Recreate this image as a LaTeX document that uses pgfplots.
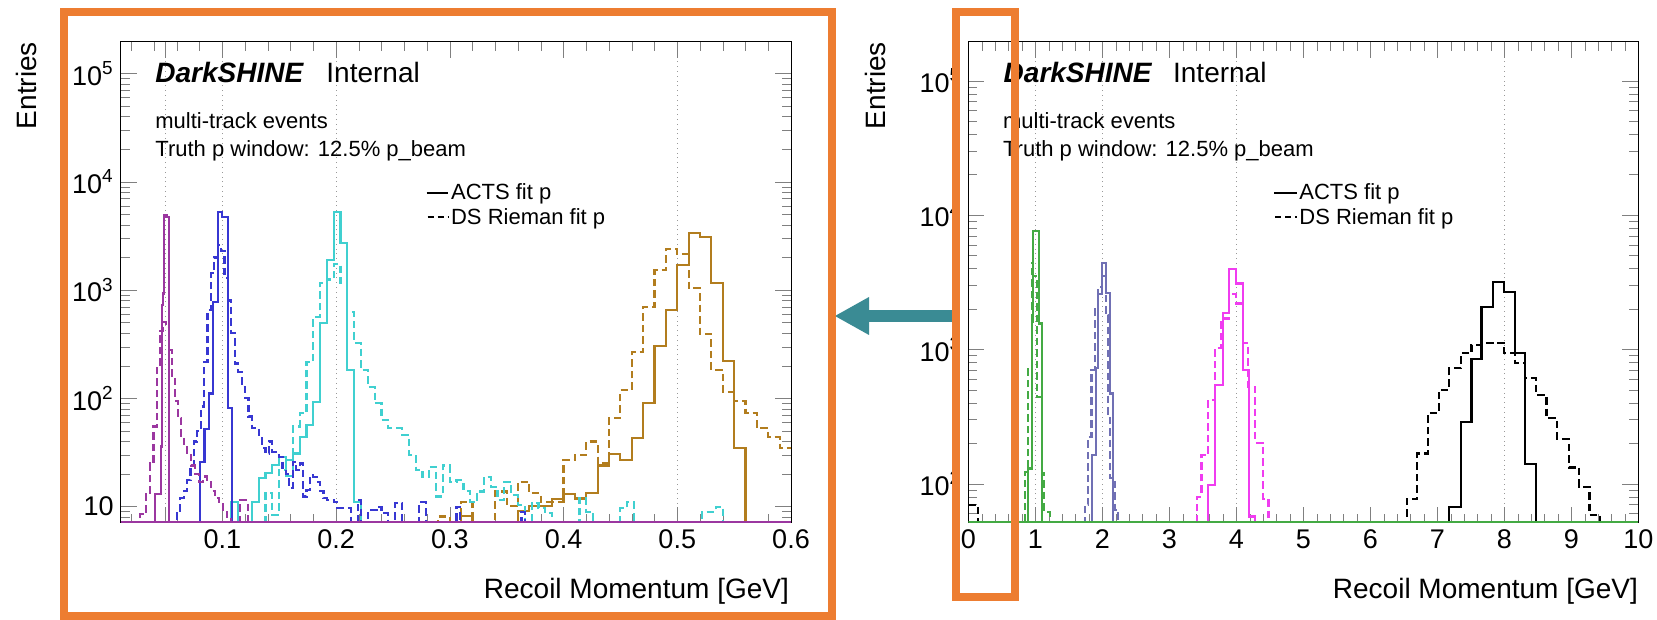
\documentclass[border=0pt]{standalone}
\usepackage{pgfplots}
\pgfplotsset{compat=1.18}
\usepackage{fontspec}
\setmainfont{Liberation Sans}
\setsansfont{Liberation Sans}
\definecolor{cMag}{RGB}{155,55,160}
\definecolor{cBlue}{RGB}{55,55,210}
\definecolor{cCyan}{RGB}{64,208,208}
\definecolor{cGold}{RGB}{178,125,30}
\definecolor{cGreen}{RGB}{68,170,68}
\definecolor{cSlate}{RGB}{112,112,180}
\definecolor{cPink}{RGB}{240,60,240}
\definecolor{cOrange}{RGB}{237,125,49}
\definecolor{cTeal}{RGB}{58,139,148}
\tikzset{dsh/.style={dash pattern=on 3.75pt off 2pt}}
\begin{document}
\begin{tikzpicture}
\useasboundingbox (0,0) rectangle (828.5pt,310pt);
\fill[white] (0,0) rectangle (828.5pt,310pt);

% ---------------- LEFT PANEL ----------------
\begin{axis}[
  scale only axis, anchor=south west,
  at={(60.35pt,48.5pt)}, width=335.15pt, height=240.65pt,
  ymode=log,
  xmin=0.0107, xmax=0.6, ymin=7.07, ymax=1.966e5,
  tick align=inside,
  axis line style={line width=0.5pt},
  major tick length=8pt, minor tick length=4.5pt,
  tick label style={font=\fontsize{13.5}{15}\selectfont},
  xtick={0.1,0.2,0.3,0.4,0.5,0.6},
  xticklabels={0.1,0.2,0.3,0.4,0.5,0.6},
  minor xtick={0.02,0.04,0.06,0.08,0.12,0.14,0.16,0.18,0.22,0.24,0.26,0.28,0.32,0.34,0.36,0.38,0.42,0.44,0.46,0.48,0.52,0.54,0.56,0.58},
  ytick={10,100,1000,10000,100000},
  yticklabels={10,10\textsuperscript{2},10\textsuperscript{3},10\textsuperscript{4},10\textsuperscript{5}},
  minor ytick={8,9,20,30,40,50,60,70,80,90,200,300,400,500,600,700,800,900,2000,3000,4000,5000,6000,7000,8000,9000,20000,30000,40000,50000,60000,70000,80000,90000},
  extra x ticks={0.05,0.1,0.2,0.5},
  extra x tick labels={,,,},
  extra x tick style={grid=major},
  major grid style={black!40, dotted, line width=0.5pt},
]
% gold
\addplot[const plot, no markers, line width=1.1pt, cGold] coordinates {(0.30,0.1)(0.31,8.2)(0.32,0.1)(0.36,9.2)(0.37,10.1)(0.39,11.7)(0.40,13.1)(0.41,11.9)(0.42,13.3)(0.43,24)(0.44,30.6)(0.45,27)(0.46,42.8)(0.47,91)(0.48,303)(0.49,655)(0.50,1700)(0.51,3360)(0.52,3100)(0.53,1170)(0.54,222)(0.55,34.6)(0.56,0.1)(0.57,0.1)};
\addplot[const plot, no markers, line width=1.1pt, dsh, cGold] coordinates {(0.28,0.1)(0.29,8.1)(0.30,0.1)(0.31,11)(0.32,0.1)(0.34,13.8)(0.35,10.2)(0.36,17)(0.37,13.3)(0.38,11.1)(0.40,27)(0.41,30)(0.42,40)(0.43,25)(0.44,65.5)(0.45,119)(0.46,270)(0.47,700)(0.48,1530)(0.49,2390)(0.50,2160)(0.51,1040)(0.52,393)(0.53,183)(0.54,115)(0.55,95)(0.56,73)(0.57,53)(0.58,44)(0.59,35)(0.60,35)};
% cyan
\addplot[const plot, no markers, line width=1.1pt, cCyan] coordinates {(0.100,0.1)(0.108,11)(0.114,0.1)(0.126,11.1)(0.132,18.3)(0.138,20.3)(0.144,24.3)(0.150,29)(0.156,19.2)(0.162,31)(0.168,44)(0.174,57)(0.180,93)(0.186,495)(0.192,1900)(0.198,5270)(0.204,2700)(0.210,183)(0.216,11.1)(0.222,0.1)(0.230,0.1)};
\addplot[const plot, no markers, line width=1.1pt, dsh, cCyan] coordinates {(0.132,0.1)(0.138,13.3)(0.144,8.4)(0.150,21.8)(0.156,27)(0.162,55)(0.168,73)(0.174,218)(0.180,567)(0.186,1160)(0.192,1250)(0.198,1750)(0.204,1160)(0.210,630)(0.216,325)(0.222,183)(0.228,128)(0.234,90)(0.240,63)(0.246,53)(0.252,53)(0.258,46)(0.264,30)(0.270,21.8)(0.276,18.9)(0.282,23.4)(0.288,12.4)(0.294,24)(0.300,17)(0.306,17.6)(0.312,14)(0.318,11)(0.324,13.8)(0.330,18.9)(0.336,15.3)(0.342,11.5)(0.348,17)(0.354,12.8)(0.360,10.4)(0.366,0.1)(0.372,10.8)(0.378,9.7)(0.384,8.7)(0.390,0.1)(0.414,12)(0.420,9)(0.426,0.1)(0.450,9.7)(0.456,11)(0.462,0.1)(0.522,9)(0.534,10)(0.540,0.1)(0.55,0.1)};
% blue
\addplot[const plot, no markers, line width=1.1pt, cBlue] coordinates {(0.078,0.1)(0.0804,26)(0.0844,52)(0.0883,111)(0.0918,780)(0.0962,5230)(0.1000,4700)(0.1053,81)(0.1083,0.1)(0.110,0.1)};
\addplot[const plot, no markers, line width=1.1pt, dsh, cBlue] coordinates {(0.057,0.1)(0.060,9)(0.063,12)(0.066,14)(0.069,17.6)(0.072,24)(0.075,40)(0.078,50)(0.081,84)(0.084,218)(0.087,650)(0.090,1430)(0.093,2000)(0.096,2600)(0.099,2300)(0.102,1300)(0.105,800)(0.108,400)(0.111,210)(0.114,176)(0.117,128)(0.120,100)(0.123,68)(0.126,53)(0.129,51)(0.132,46)(0.135,35)(0.138,31)(0.141,40)(0.144,32)(0.147,30)(0.150,29)(0.153,22)(0.156,20)(0.159,15)(0.162,26)(0.165,22)(0.168,25)(0.171,12.4)(0.174,14.3)(0.177,19.6)(0.180,18.9)(0.183,17)(0.186,14)(0.189,12)(0.192,11.5)(0.195,11.5)(0.198,11)(0.201,9.7)(0.204,9.7)(0.207,9.7)(0.210,9.7)(0.213,0.1)(0.219,11.5)(0.222,0.1)(0.228,9.3)(0.237,10)(0.240,8.7)(0.246,0.1)(0.252,10.8)(0.258,0.1)(0.273,11)(0.279,0.1)(0.306,10)(0.309,0.1)(0.363,9)(0.366,0.1)(0.37,0.1)};
% magenta
\addplot[const plot, no markers, line width=1.1pt, cMag] coordinates {(0.040,0.1)(0.041,13)(0.046,36)(0.047,730)(0.0478,930)(0.0485,4900)(0.0510,4700)(0.0534,0.1)(0.055,0.1)};
\addplot[const plot, no markers, line width=1.1pt, dsh, cMag] coordinates {(0.026,0.1)(0.0276,8.5)(0.0329,13)(0.0364,25)(0.0395,55)(0.0426,200)(0.0452,420)(0.0479,510)(0.0505,450)(0.0531,280)(0.0558,160)(0.0584,95)(0.0610,66)(0.0637,45)(0.0663,38)(0.0690,30)(0.0725,24)(0.0760,20)(0.0795,17)(0.0830,19)(0.0866,17)(0.0901,14)(0.0936,12)(0.0971,11)(0.1006,9)(0.1041,8)(0.1077,0.1)(0.1156,11.5)(0.1226,0.1)(0.125,0.1)};
\addplot[cMag, line width=1.6pt, no markers] coordinates {(0.0107,7.07)(0.6,7.07)};
\end{axis}

% ---------------- RIGHT PANEL ----------------
\begin{axis}[
  scale only axis, anchor=south west,
  at={(484.15pt,48.5pt)}, width=335pt, height=240.65pt,
  ymode=log,
  xmin=0, xmax=10, ymin=51, ymax=1.955e5,
  tick align=inside,
  axis line style={line width=0.5pt},
  major tick length=8pt, minor tick length=4.5pt,
  tick label style={font=\fontsize{13.5}{15}\selectfont},
  xtick={0,1,2,3,4,5,6,7,8,9,10},
  xticklabels={0,1,2,3,4,5,6,7,8,9,10},
  minor x tick num=4,
  ytick={100,1000,10000,100000},
  yticklabels={10\textsuperscript{2},10\textsuperscript{3},10\textsuperscript{4},10\textsuperscript{5}},
  minor ytick={60,70,80,90,200,300,400,500,600,700,800,900,2000,3000,4000,5000,6000,7000,8000,9000,20000,30000,40000,50000,60000,70000,80000,90000},
  extra x ticks={1,2,4,8},
  extra x tick labels={,,,},
  extra x tick style={grid=major},
  major grid style={black!40, dotted, line width=0.5pt},
]
% black
\addplot[const plot, no markers, line width=1.1pt, black] coordinates {(7.0,0.1)(7.179,66.7)(7.35,289)(7.51,844)(7.66,2060)(7.83,3190)(8.00,2690)(8.16,935)(8.31,140)(8.47,0.1)(8.6,0.1)};
\addplot[const plot, no markers, line width=1.1pt, dsh, black] coordinates {(6.4,0.1)(6.543,76.5)(6.70,168)(6.86,334)(7.02,499)(7.18,723)(7.35,935)(7.51,1080)(7.66,1120)(7.83,1120)(8.00,945)(8.16,795)(8.31,609)(8.47,458)(8.63,307)(8.79,214)(8.96,132)(9.12,95)(9.27,58.5)(9.43,0.1)(9.6,0.1)};
\addplot[const plot, no markers, line width=1.1pt, dsh, black] coordinates {(0.0,69)(0.15,0.1)(0.3,0.1)};
% pink
\addplot[const plot, no markers, line width=1.1pt, cPink] coordinates {(3.5,0.1)(3.582,98)(3.682,544)(3.797,1860)(3.891,3950)(3.991,3100)(4.104,703)(4.194,57)(4.279,0.1)(4.4,0.1)};
\addplot[const plot, no markers, line width=1.1pt, dsh, cPink] coordinates {(3.35,0.1)(3.41,80)(3.48,164)(3.58,420)(3.68,1020)(3.78,1700)(3.89,2600)(3.99,2200)(4.10,1110)(4.18,526)(4.28,202)(4.40,77)(4.48,0.1)(4.6,0.1)};
% slate
\addplot[const plot, no markers, line width=1.1pt, cSlate] coordinates {(1.80,0.1)(1.851,164)(1.90,725)(1.94,2600)(1.99,4380)(2.05,2640)(2.115,470)(2.164,0.1)(2.3,0.1)};
\addplot[const plot, no markers, line width=1.1pt, dsh, cSlate] coordinates {(1.65,0.1)(1.742,70)(1.79,224)(1.84,700)(1.89,2000)(1.94,2920)(1.99,3500)(2.05,1800)(2.09,324)(2.115,110)(2.19,64)(2.24,0.1)(2.3,0.1)};
% green
\addplot[const plot, no markers, line width=1.1pt, cGreen] coordinates {(0.85,0.1)(0.896,130)(0.946,1600)(0.966,7650)(1.055,1560)(1.095,0.1)(1.2,0.1)};
\addplot[const plot, no markers, line width=1.1pt, dsh, cGreen] coordinates {(0.80,0.1)(0.846,123)(0.896,745)(0.946,4370)(0.97,3500)(1.03,440)(1.095,120)(1.134,62)(1.22,0.1)(1.3,0.1)};
\addplot[cGreen, line width=1.6pt, no markers] coordinates {(0,51)(10,51)};
\end{axis}

% ---------------- TEXT, ARROW, FRAMES ----------------
\begin{scope}[yshift=310pt, x=0.5pt, y=-0.5pt]
\tikzset{lab/.style={inner sep=0pt, font=\fontsize{14}{16}\selectfont}}
\node[lab, anchor=base west, font=\fontsize{14}{16}\selectfont\bfseries\itshape] at (155,82.7) {DarkSHINE};
\node[lab, anchor=base west] at (326,82.7) {Internal};
\node[lab, anchor=base west, font=\fontsize{11}{13}\selectfont] at (155,128.3) {multi-track events};
\node[lab, anchor=base west, font=\fontsize{11}{13}\selectfont] at (155,156.7) {Truth p window: 12.5\% p\_beam};
\draw[black, line width=1pt] (426.7,192.7) -- (448.3,192.7);
\node[lab, anchor=base west, font=\fontsize{11}{13}\selectfont] at (450.7,200) {ACTS fit p};
\draw[black, line width=1pt, dash pattern=on 3pt off 2pt] (427.7,217.3) -- (448.3,217.3);
\node[lab, anchor=base west, font=\fontsize{11}{13}\selectfont] at (450.7,225) {DS Rieman fit p};
\node[lab, rotate=90, anchor=base east] at (36.7,41.7) {Entries};
\node[lab, anchor=base east] at (789.3,598.3) {Recoil Momentum [GeV]};
\node[lab, anchor=base west, font=\fontsize{14}{16}\selectfont\bfseries\itshape] at (1003.3,82.7) {DarkSHINE};
\node[lab, anchor=base west] at (1172.7,82.7) {Internal};
\node[lab, anchor=base west, font=\fontsize{11}{13}\selectfont] at (1002.7,128.3) {multi-track events};
\node[lab, anchor=base west, font=\fontsize{11}{13}\selectfont] at (1002.7,156.7) {Truth p window: 12.5\% p\_beam};
\draw[black, line width=1pt] (1274,192.7) -- (1296.7,192.7);
\node[lab, anchor=base west, font=\fontsize{11}{13}\selectfont] at (1299,200) {ACTS fit p};
\draw[black, line width=1pt, dash pattern=on 3pt off 2pt] (1275,217.3) -- (1296.7,217.3);
\node[lab, anchor=base west, font=\fontsize{11}{13}\selectfont] at (1299,225) {DS Rieman fit p};
\node[lab, rotate=90, anchor=base east] at (885,41.7) {Entries};
\node[lab, anchor=base east] at (1638.3,598.3) {Recoil Momentum [GeV]};
\fill[cTeal] (868,310) rectangle (956,322);
\fill[cTeal] (835,316) -- (869,297) -- (869,335) -- cycle;
\draw[cOrange, line width=4pt] (63.5,12) rectangle (832,616);
\draw[cOrange, line width=4pt] (956,12) rectangle (1015,597);
\end{scope}
\end{tikzpicture}
\end{document}
